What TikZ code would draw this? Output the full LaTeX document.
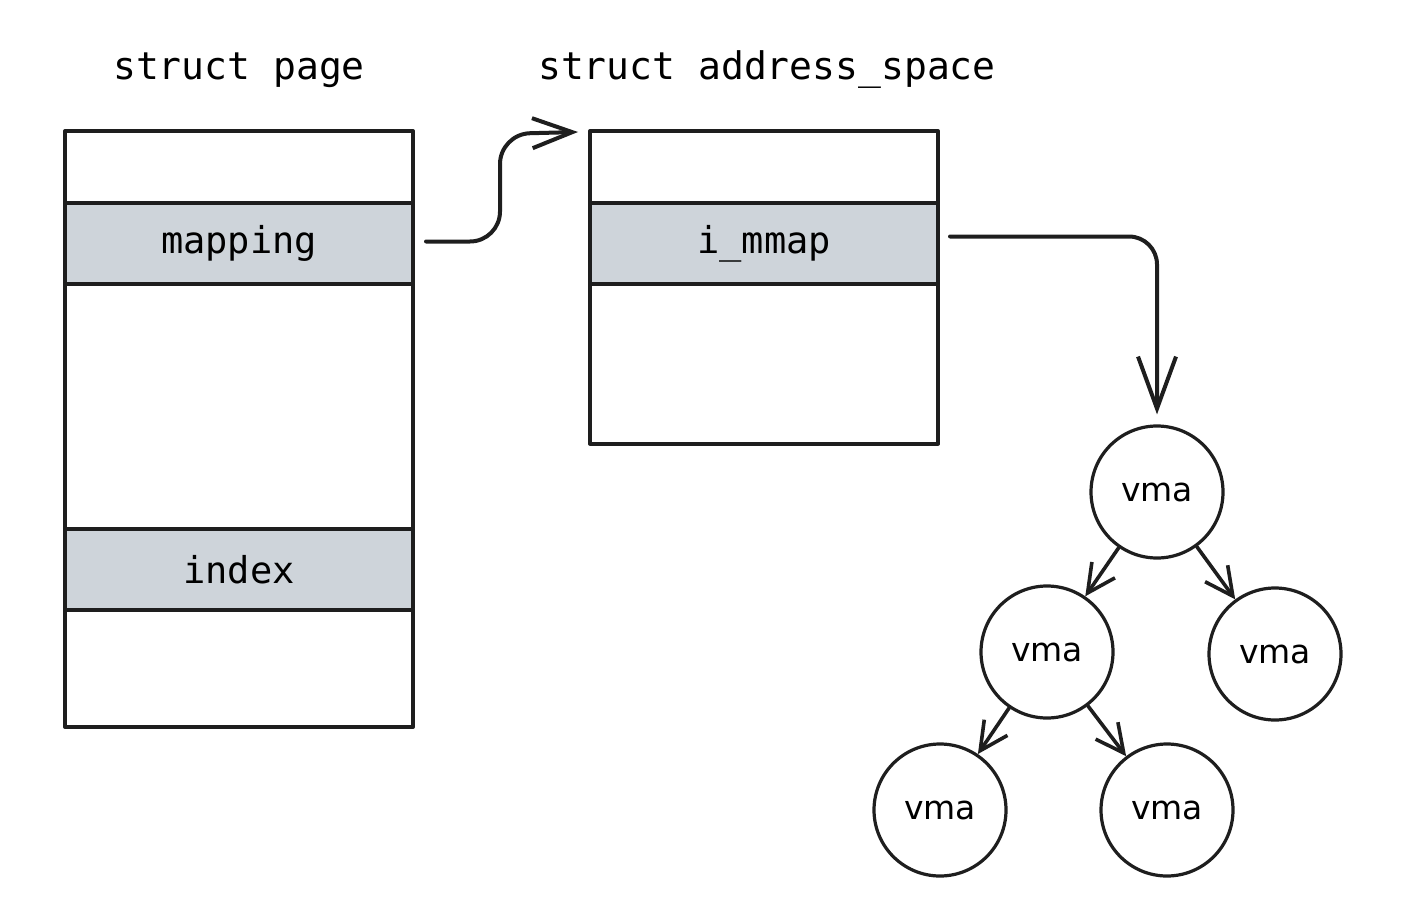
\documentclass[tikz,border=0pt]{standalone}
\usepackage{fontspec}
\setmainfont{DejaVu Sans}
\setmonofont{DejaVu Sans Mono}
\usetikzlibrary{arrows.meta}
\definecolor{ink}{HTML}{1E1E1E}
\definecolor{rowgrey}{HTML}{CED4DA}
\tikzset{
	field/.style={draw=ink,line width=2pt,minimum width=174pt,inner sep=0pt,font=\fontsize{18.5}{22}\selectfont\ttfamily},
	hot/.style={field,fill=rowgrey},
	vma/.style={circle,draw=ink,line width=1.6pt,minimum size=66pt,inner sep=0pt,font=\fontsize{16.5}{20}\selectfont},
	title/.style={anchor=base,font=\fontsize{19}{23}\selectfont\ttfamily}
}
\begin{document}
\begin{tikzpicture}[
	x=0.5pt,y=-0.5pt,
	>={Straight Barb[length=20pt,width=15pt,line width=2pt]},
	line cap=round,
	line join=round,
	draw=ink
	]
	\useasboundingbox (0,0) rectangle (1417,904);
	% struct page
	\node[title] (pagettl) at (239,80) {struct page};
	\node[field,minimum height=36pt] (pgtop) at (239,167) {};
	\node[field,minimum height=122.5pt] (pgmid) at (239,406.5) {};
	\node[field,minimum height=58.5pt] (pgbot) at (239,668.5) {};
	\node[hot,minimum height=40.5pt] (mapping) at (239,243.5) {mapping};
	\node[hot,minimum height=40.5pt] (index) at (239,569.5) {index};
	% struct address_space
	\node[title] (asttl) at (767,80) {struct address\_space};
	\node[field,minimum height=36pt] (astop) at (764,167) {};
	\node[field,minimum height=80pt] (asbot) at (764,363.5) {};
	\node[hot,minimum height=40.5pt] (immap) at (764,243.5) {i\_mmap};
	% vma tree
	\node[vma] (vma1) at (1157,492) {vma};
	\node[vma] (vma2) at (1047,652) {vma};
	\node[vma] (vma3) at (1275,654) {vma};
	\node[vma] (vma4) at (940,810) {vma};
	\node[vma] (vma5) at (1167,810) {vma};
	\coordinate (mapout) at ([xshift=5.5pt,yshift=1pt]mapping.east);
	\coordinate (asin) at ([xshift=-5pt,yshift=-1.5pt]astop.north west);
	\coordinate (immout) at ([xshift=5pt,yshift=3.5pt]immap.east);
	\begin{scope}[line width=2pt]
		\draw[->,rounded corners=15pt] (mapout) -| (500,134) -- (asin);
		\draw[-{Straight Barb[length=26pt,width=19pt,line width=2pt]},rounded corners=14pt,shorten >=5pt] (immout) -| (vma1.north);
		\begin{scope}[line width=1.8pt,>={Straight Barb[length=14pt,width=14pt,line width=1.8pt]}]
			\draw[->] (vma1) -- (vma2);
			\draw[->] (vma1) -- (vma3);
			\draw[->] (vma2) -- (vma4);
			\draw[->] (vma2) -- (vma5);
		\end{scope}
	\end{scope}
\end{tikzpicture}
\end{document}
